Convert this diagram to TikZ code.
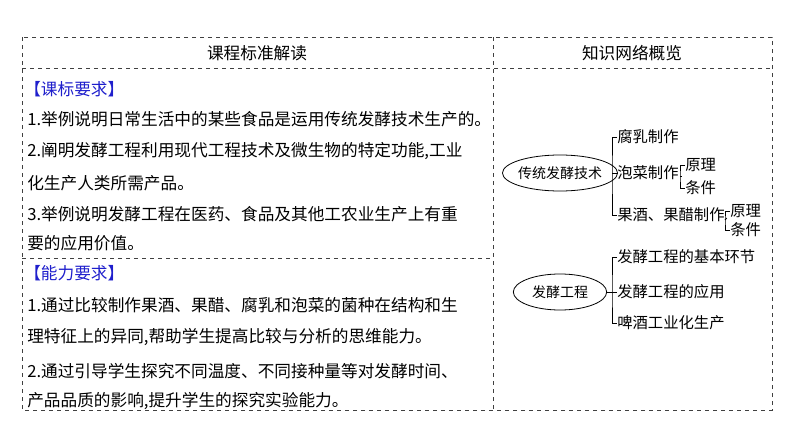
\documentclass[tikz,border=0pt]{standalone}
\usepackage{fontspec}
\setmainfont{Noto Sans CJK SC}
\usetikzlibrary{positioning,shapes.geometric}
\definecolor{headblue}{HTML}{1F1FCC}
\tikzset{
    % table frame lines
    grid line/.style={dashed, line width=0.6pt, draw=black!75},
    % left column text
    body text/.style={anchor=west, font=\fontsize{12.5}{14}\selectfont, inner sep=0pt},
    head text/.style={body text, text=headblue},
    % right column map
    map text/.style={anchor=west, font=\fontsize{11.5}{13}\selectfont, inner sep=0pt},
    topic/.style={ellipse, draw, line width=0.6pt, minimum width=70pt, minimum height=27pt, inner sep=-1pt, font=\fontsize{10.5}{12}\selectfont},
    branch/.style={line width=0.6pt}
}
\begin{document}
\begin{tikzpicture}[x=0.75pt, y=-0.75pt]
    \useasboundingbox (0,0) rectangle (794,446);

    % Frame
    \draw[grid line] (22,37) rectangle (772,410);
    \draw[grid line] (22,68) -- (772,68);
    \draw[grid line] (493,37) -- (493,410);
    \draw[grid line] (22,258) -- (493,258);
    \node[font=\fontsize{12.5}{14}\selectfont] (lhead) at (257,53) {课程标准解读};
    \node[font=\fontsize{12.5}{14}\selectfont] (rhead) at (632,53) {知识网络概览};

    % Left column
    \node[head text] (kb) at (24,89) {【课标要求】};
    \node[body text] (k1) at (27,119) {1.举例说明日常生活中的某些食品是运用传统发酵技术生产的。};
    \node[body text] (k2) at (27,151) {2.阐明发酵工程利用现代工程技术及微生物的特定功能,工业};
    \node[body text] (k2b) at (27,183) {化生产人类所需产品。};
    \node[body text] (k3) at (27,214) {3.举例说明发酵工程在医药、食品及其他工农业生产上有重};
    \node[body text] (k3b) at (27,243) {要的应用价值。};
    \node[head text] (nl) at (24,273) {【能力要求】};
    \node[body text] (n1) at (27,305) {1.通过比较制作果酒、果醋、腐乳和泡菜的菌种在结构和生};
    \node[body text] (n1b) at (27,337) {理特征上的异同,帮助学生提高比较与分析的思维能力。};
    \node[body text] (n2) at (27,371) {2.通过引导学生探究不同温度、不同接种量等对发酵时间、};
    \node[body text] (n2b) at (27,401) {产品品质的影响,提升学生的探究实验能力。};

    % Right column: traditional fermentation
    \node[topic] (ctfj) at (560,173) {传统发酵技术};
    \coordinate (b1) at (612,173);
    \node[map text] (frzz) at (617,137) {腐乳制作};
    \node[map text] (pczz) at (617,173) {泡菜制作};
    \node[map text] (gjzz) at (617,215) {果酒、果醋制作};
    \draw[branch] (ctfj.east) -- (b1);
    \draw[branch] (frzz.west) -| (b1) |- (gjzz.west);
    \draw[branch] (b1) -- (pczz.west);

    \coordinate (b2) at (680,176);
    \node[map text] (yl1) at (685,165) {原理};
    \node[map text] (tj1) at (685,188) {条件};
    \draw[branch] (pczz.east) ++(3,3) -- (b2);
    \draw[branch] (yl1.west) -| (b2) |- (tj1.west);

    \coordinate (b3) at (725,220);
    \node[map text] (yl2) at (730,211) {原理};
    \node[map text] (tj2) at (730,230) {条件};
    \draw[branch] (gjzz.east) ++(2,3) -- (b3);
    \draw[branch] (yl2.west) -| (b3) |- (tj2.west);

    % Right column: fermentation engineering
    \node[topic] (fjgc) at (560,292) {发酵工程};
    \coordinate (b4) at (612,292);
    \node[map text] (jbhj) at (617,257) {发酵工程的基本环节};
    \node[map text] (yy) at (617,292) {发酵工程的应用};
    \node[map text] (pj) at (617,323) {啤酒工业化生产};
    \draw[branch] (fjgc.east) -- (b4);
    \draw[branch] (jbhj.west) -| (b4) |- (pj.west);
    \draw[branch] (b4) -- (yy.west);
\end{tikzpicture}
\end{document}
